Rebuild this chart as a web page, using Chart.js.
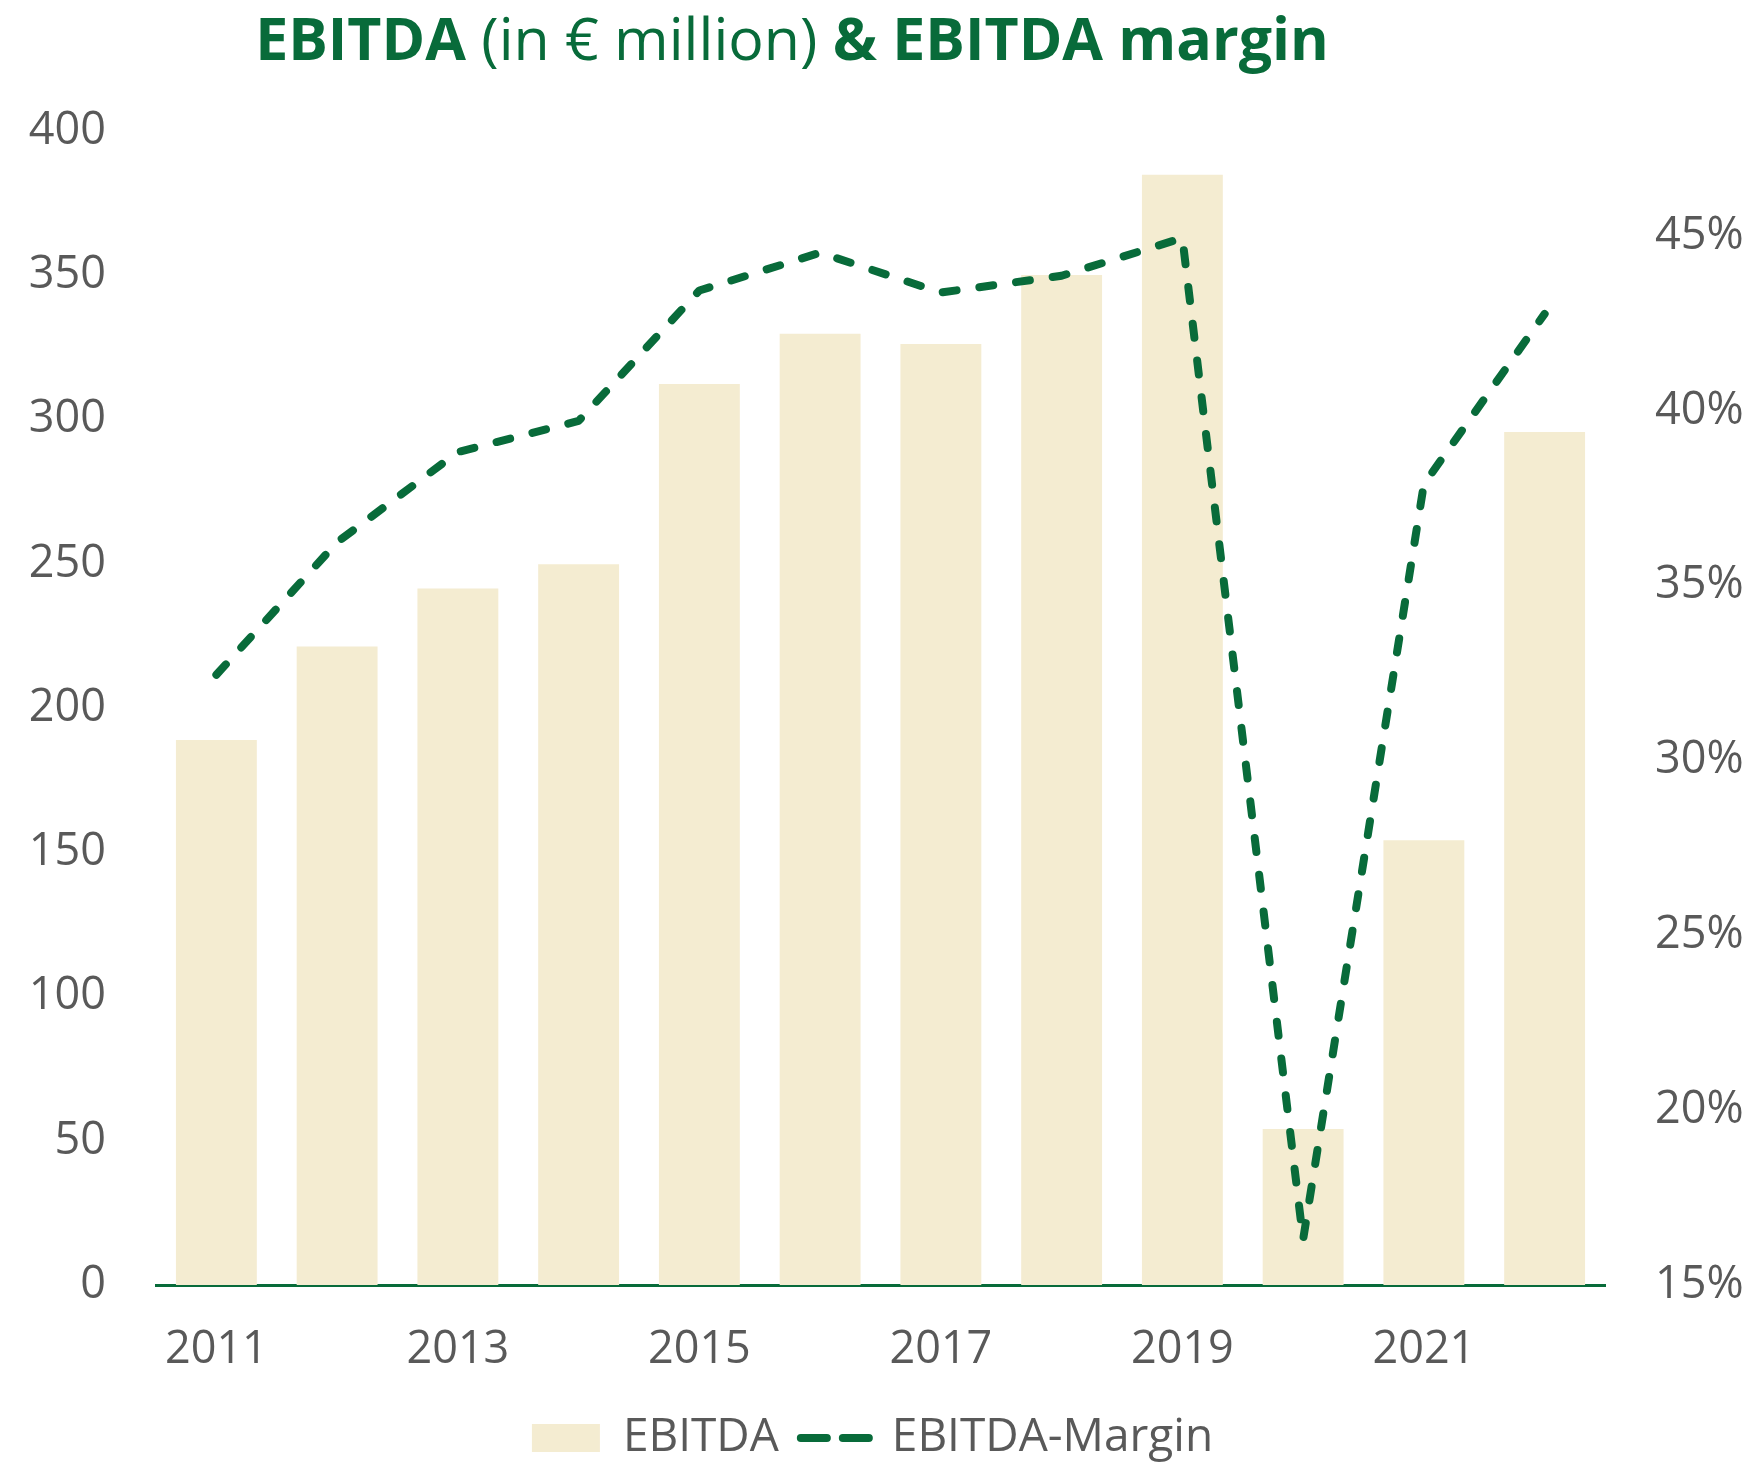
<!DOCTYPE html>
<html>
<head>
<meta charset="utf-8">
<script src="https://cdn.jsdelivr.net/npm/chart.js@4"></script>
<style>
  body { margin: 0; background: #fff; }
  #wrap { position: relative; width: 1745px; height: 1462px; }
  #title {
    position: absolute; left: 0; top: 8px; width: 1584px;
    text-align: center; font-family: "Open Sans", sans-serif;
    font-size: 59px; line-height: 1; color: #086b3a; white-space: nowrap;
  }
  #title b { font-weight: 700; }
  #title span { font-weight: 400; }
</style>
</head>
<body>
<div id="wrap">
  <div id="title"><b>EBITDA</b><span> (in € million) </span><b>&amp; EBITDA margin</b></div>
  <canvas id="myChart" width="1745" height="1462"></canvas>
</div>
<script>
const years = ['2011', '2012', '2013', '2014', '2015', '2016', '2017', '2018', '2019', '2020', '2021', '2022'];
const ebitda = [188.9, 221.3, 241.4, 249.8, 312.3, 329.7, 326.2, 350.1, 384.8, 54.1, 154.2, 295.7];
const margin = [32.45, 36.24, 38.82, 39.71, 43.44, 44.52, 43.38, 43.86, 44.94, 16.3, 37.9, 42.77];

const green = '#086b3a';
const beige = '#f4ecd1';
const grey = '#595959';
const tickFont = { family: 'Open Sans', size: 45 };

const ctx = document.getElementById('myChart').getContext('2d');
new Chart(ctx, {
    data: {
        labels: years,
        datasets: [
            {
                type: 'bar',
                label: 'EBITDA',
                data: ebitda,
                backgroundColor: beige,
                borderWidth: 0,
                categoryPercentage: 1,
                barPercentage: 0.67,
                yAxisID: 'y',
                pointStyle: 'rect',
                order: 2
            },
            {
                type: 'line',
                label: 'EBITDA-Margin',
                data: margin,
                borderColor: green,
                backgroundColor: green,
                borderWidth: 8,
                borderDash: [14, 23],
                borderCapStyle: 'round',
                borderJoinStyle: 'round',
                pointRadius: 0,
                tension: 0,
                yAxisID: 'y1',
                pointStyle: 'line',
                order: 1
            }
        ]
    },
    options: {
        responsive: false,
        animation: false,
        layout: {
            padding: { top: 131, left: 0, right: 0, bottom: -9 }
        },
        scales: {
            x: {
                grid: { display: false, drawTicks: false },
                border: { display: true, color: green, width: 3 },
                ticks: {
                    autoSkip: false,
                    maxRotation: 0,
                    padding: 38,
                    color: grey,
                    font: tickFont,
                    callback: function (v, i) {
                        return i % 2 === 0 ? this.getLabelForValue(v) : '';
                    }
                },
                afterFit: scale => { scale.height = 108; }
            },
            y: {
                position: 'left',
                min: 0,
                max: 400,
                grid: { display: false, drawTicks: false },
                border: { display: false },
                ticks: { stepSize: 50, padding: 50, color: grey, font: tickFont },
                afterFit: scale => { scale.width = 156; }
            },
            y1: {
                position: 'right',
                min: 15,
                max: 48,
                grid: { display: false, drawTicks: false },
                border: { display: false },
                ticks: {
                    stepSize: 5,
                    padding: 50,
                    color: grey,
                    font: tickFont,
                    callback: v => v + '%'
                },
                afterBuildTicks: scale => {
                    scale.ticks = scale.ticks.filter(t => t.value % 5 === 0);
                },
                afterFit: scale => { scale.width = 140; }
            }
        },
        plugins: {
            title: { display: false },
            tooltip: { enabled: false },
            legend: {
                position: 'bottom',
                labels: {
                    usePointStyle: true,
                    pointStyleWidth: 68,
                    boxHeight: 28,
                    padding: 22,
                    color: grey,
                    font: { family: 'Open Sans', size: 46 },
                    sort: (a, b) => a.datasetIndex - b.datasetIndex,
                    generateLabels: chart => {
                        const items = Chart.defaults.plugins.legend.labels.generateLabels(chart);
                        items.forEach(item => {
                            if (item.datasetIndex === 1) {
                                item.lineWidth = 8;
                                item.lineDash = [26, 16];
                                item.lineCap = 'round';
                                item.strokeStyle = green;
                            } else {
                                item.lineWidth = 0;
                            }
                        });
                        return items;
                    }
                }
            }
        }
    }
});
</script>
</body>
</html>
